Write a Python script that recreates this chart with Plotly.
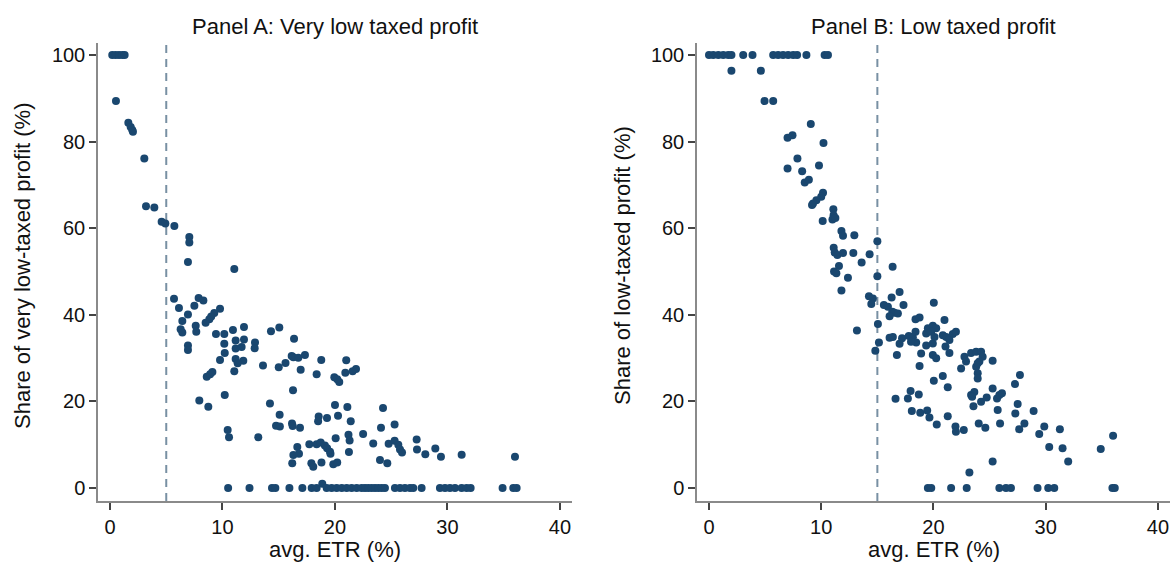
import plotly.graph_objects as go

# ---------------- Data ----------------
# Panel A: Very low taxed profit
a_x = [0.2, 0.5, 0.8, 1.1, 1.3,
       0.53, 1.63, 1.84, 1.98, 2.04, 3.05, 3.2, 3.94, 4.59, 4.92, 5.72,
       7.05, 7.05, 6.93, 11.05, 5.69, 6.13, 7.88, 8.3, 7.5, 6.93, 9.78, 9.27, 9.0, 8.83, 8.5,
       6.43, 6.28, 6.43, 7.62, 7.67, 6.93, 6.93, 9.42, 10.16, 10.93, 11.91, 10.16, 11.17,
       11.91, 11.17, 11.7, 10.2, 9.78, 11.17, 11.85, 11.35, 11.05, 12.89, 12.86, 13.6,
       14.31, 15.05, 15.0, 15.6, 8.6, 8.9, 9.1, 10.2, 7.94, 8.74, 14.22, 15.08, 14.76, 15.1,
       10.46, 10.58, 13.18,
       16.36, 16.15, 16.3, 16.74, 17.33, 16.95, 16.27, 18.78, 18.37, 21.0, 19.94, 20.2, 20.38,
       20.92, 21.57, 21.87, 16.18, 16.24, 16.89, 20.0, 21.1, 18.55, 18.5, 19.29, 20.27, 21.4,
       24.27, 24.09, 25.3, 22.5, 21.2, 21.3, 20.06, 23.4, 24.77, 25.3, 25.63, 25.78, 25.96,
       27.26, 27.29, 28.03, 28.92, 29.42, 31.26, 36.0, 17.72, 18.37, 18.73, 19.1, 19.3, 19.56,
       19.6, 16.65, 16.8, 16.3, 16.2, 17.9, 18.07, 18.8, 19.85, 20.2, 21.24, 24.0, 24.65,
       10.5, 12.4, 14.4, 14.7, 15.95, 17.1, 17.93, 18.37, 18.87, 19.26, 19.7, 20.15, 20.6,
       21.04, 21.48, 21.93, 22.37, 22.67, 22.96, 23.26, 23.56, 23.85, 24.15, 24.44, 25.33,
       25.78, 26.22, 26.67, 26.96, 27.7, 29.33, 29.78, 30.22, 30.67, 31.26, 31.7, 32.06,
       34.9, 35.85, 36.15]
a_y = [100, 100, 100, 100, 100,
       89.4, 84.4, 83.4, 82.7, 82.3, 76.1, 65.1, 64.8, 61.5, 61.1, 60.5,
       58.0, 56.7, 52.2, 50.6, 43.7, 41.6, 43.9, 43.3, 42.1, 40.1, 41.4, 40.4, 39.6, 39.0, 38.2,
       38.6, 36.7, 35.9, 37.5, 36.1, 32.9, 31.9, 35.6, 35.6, 36.5, 37.2, 33.3, 34.1,
       34.3, 32.2, 32.6, 31.2, 29.6, 29.8, 29.4, 28.8, 27.0, 33.6, 32.3, 28.3,
       36.2, 37.1, 27.9, 28.9, 25.7, 26.3, 26.8, 21.5, 20.2, 18.8, 19.5, 16.9, 14.4, 14.2,
       13.4, 11.7, 11.7,
       34.5, 30.5, 30.2, 30.1, 30.7, 27.3, 22.6, 29.6, 26.3, 29.5, 25.6, 25.1, 24.5,
       26.6, 27.0, 27.5, 14.9, 14.3, 13.9, 19.2, 18.7, 16.5, 15.4, 16.2, 16.7, 15.4,
       18.5, 13.9, 14.7, 12.5, 12.3, 11.0, 11.5, 10.3, 10.2, 10.9, 10.0, 8.9, 8.2,
       11.2, 8.9, 7.8, 9.1, 7.2, 7.7, 7.2, 10.1, 10.1, 10.5, 9.8, 9.2, 8.4,
       7.9, 9.5, 7.9, 7.6, 5.7, 5.7, 4.9, 5.9, 5.5, 5.9, 8.3, 6.5, 5.7,
       0, 0, 0, 0, 0, 0, 0, 0, 1.0, 0, 0, 0, 0,
       0, 0, 0, 0, 0, 0, 0, 0, 0, 0, 0, 0,
       0, 0, 0, 0, 0, 0, 0, 0, 0, 0, 0, 0,
       0, 0, 0]

# Panel B: Low taxed profit
b_x = [0.0, 0.38, 0.83, 1.27, 1.72, 2.0, 3.05, 3.88, 5.72, 6.16, 6.6, 7.05, 7.5, 7.85, 8.68,
       10.3, 10.6,
       2.0, 4.62, 4.95, 5.72, 9.07, 7.0, 7.44, 10.2, 7.88, 7.0, 9.8, 8.3, 8.53, 8.9, 10.16,
       10.0, 9.57, 9.27, 9.18, 11.08, 11.1, 11.0, 10.13, 11.26, 11.8,
       11.94, 12.95, 15.0, 11.11, 11.2, 11.44, 11.94, 12.86, 14.31, 13.6, 11.58, 11.14, 11.35,
       12.38, 15.0, 16.36, 11.8, 14.25, 14.6, 14.46, 13.18, 16.27, 16.98, 15.58, 15.94, 16.33,
       16.53, 16.09, 16.83, 17.33, 20.03, 15.05, 15.14, 14.82, 16.09, 16.38, 16.98, 17.2,
       16.74, 18.4, 18.76, 20.98, 17.8, 18.16, 18.4, 18.46, 19.35, 19.5, 19.94, 20.24, 19.8,
       19.35, 19.94, 20.09, 20.83, 21.13, 21.72, 22.0, 21.42, 18.9, 19.94, 20.24, 21.42,
       18.76, 20.83, 22.76, 22.9, 23.35, 23.8, 22.46, 23.8, 23.94,
       18.0, 21.07, 20.03, 21.27, 24.24, 24.38, 24.09, 23.94, 23.94, 25.27, 23.35, 23.64,
       23.44, 23.56, 24.24, 24.74, 25.27, 25.66, 25.87, 26.1, 25.72, 27.26, 27.7, 27.5, 27.29,
       28.1, 27.64, 28.92, 29.87, 29.42, 31.26, 30.31, 31.5, 32.0, 34.9, 36.0, 16.62, 17.72,
       17.96, 18.69, 18.07, 18.82, 19.44, 19.64, 20.29, 21.27, 21.96, 22.0, 22.7, 24.03,
       24.62, 25.93, 25.27, 23.2,
       19.5, 19.8, 21.57, 22.96, 25.87, 26.46, 26.9, 29.27, 30.22, 30.76, 35.94, 36.15]
b_y = [100, 100, 100, 100, 100, 100, 100, 100, 100, 100, 100, 100, 100, 100, 100,
       100, 100,
       96.4, 96.4, 89.4, 89.4, 84.1, 80.9, 81.5, 79.7, 76.1, 73.8, 74.5, 73.2, 70.6, 71.2, 68.2,
       67.3, 66.5, 65.7, 65.4, 64.4, 63.0, 62.0, 61.7, 62.4, 59.4,
       58.3, 58.4, 57.0, 55.5, 54.4, 53.8, 54.3, 54.3, 54.0, 52.1, 51.3, 50.0, 49.6,
       48.6, 48.9, 51.1, 45.6, 44.3, 43.8, 42.5, 36.4, 44.0, 45.3, 42.3, 41.9, 40.7,
       40.5, 39.7, 40.3, 42.3, 42.8, 37.9, 33.6, 31.7, 34.7, 34.9, 33.3, 34.6,
       30.7, 39.0, 39.4, 38.8, 35.1, 34.8, 36.1, 33.6, 35.7, 36.9, 37.5, 36.9, 36.1,
       32.9, 33.4, 34.9, 35.3, 34.9, 35.6, 36.1, 34.2, 31.1, 30.7, 30.0, 31.2,
       28.2, 25.9, 30.3, 29.2, 31.2, 31.5, 27.6, 28.0, 26.5,
       33.8, 32.7, 24.8, 23.3, 31.5, 30.3, 29.2, 28.8, 25.3, 29.4, 21.5, 22.2,
       21.1, 18.9, 19.9, 20.9, 23.0, 20.7, 21.5, 21.9, 18.0, 24.0, 26.1, 19.4, 17.2,
       14.9, 13.6, 17.8, 14.2, 12.5, 13.6, 9.5, 9.2, 6.1, 9.0, 12.1, 20.6, 20.7,
       22.4, 21.6, 17.8, 17.4, 17.9, 16.3, 14.7, 16.6, 14.2, 13.0, 13.4, 14.9,
       13.9, 14.9, 6.1, 3.6,
       0, 0, 0, 0, 0, 0, 0, 0, 0, 0, 0, 0]

x_ticks = [0, 10, 20, 30, 40]
y_ticks = [0, 20, 40, 60, 80, 100]
cutoff_a = 5
cutoff_b = 15
titles = ["Panel A: Very low taxed profit", "Panel B: Low taxed profit"]
y_titles = ["Share of very low-taxed profit (%)", "Share of low-taxed profit (%)"]
x_title = "avg. ETR (%)"

# ---------------- Styling ----------------
W, H = 1174, 565
FONT = "Liberation Sans, Arial, sans-serif"
NAVY = "#1a476f"
AXIS = "#8a8a8a"
TICK_SIZE = 20
TITLE_SIZE = 22

def px_x(p):
    return p / W

def px_y(p):
    return 1 - p / H

dom_a = [px_x(98), px_x(572)]
dom_b = [px_x(697), px_x(1170)]
dom_y = [px_y(501), px_y(43)]

fig = go.Figure()
marker = dict(color=NAVY, size=8, line=dict(width=0))
fig.add_trace(go.Scatter(x=a_x, y=a_y, mode="markers", marker=marker,
                         xaxis="x", yaxis="y", showlegend=False))
fig.add_trace(go.Scatter(x=b_x, y=b_y, mode="markers", marker=marker,
                         xaxis="x2", yaxis="y2", showlegend=False))

xcommon = dict(range=[-1.067, 41.07], tickvals=x_ticks, showgrid=False, zeroline=False,
               showline=True, linecolor=AXIS, linewidth=1.5, ticks="outside", ticklen=7,
               tickcolor="#444", tickwidth=1.5, automargin=False,
               tickfont=dict(family=FONT, size=TICK_SIZE, color="#111"))
ycommon = dict(range=[-3.0, 102.8], tickvals=y_ticks, showgrid=False, zeroline=False,
               showline=True, linecolor=AXIS, linewidth=1.5, ticks="outside", ticklen=7,
               tickcolor="#444", tickwidth=1.5, automargin=False, domain=dom_y,
               tickfont=dict(family=FONT, size=TICK_SIZE, color="#111"))

fig.update_layout(
    width=W, height=H,
    margin=dict(l=0, r=0, t=0, b=0),
    paper_bgcolor="white", plot_bgcolor="white",
    font=dict(family=FONT, size=TICK_SIZE, color="#111"),
    xaxis=dict(**xcommon, domain=dom_a, anchor="y"),
    yaxis=dict(**ycommon, anchor="x"),
    xaxis2=dict(**xcommon, domain=dom_b, anchor="y2"),
    yaxis2=dict(**ycommon, anchor="x2"),
)

dash = dict(color="#7890a3", width=2, dash="8px,6px")
fig.add_shape(type="line", xref="x", yref="y domain", x0=cutoff_a, x1=cutoff_a, y0=0, y1=1,
              line=dash, layer="below")
fig.add_shape(type="line", xref="x2", yref="y2 domain", x0=cutoff_b, x1=cutoff_b, y0=0, y1=1,
              line=dash, layer="below")

ann = []
for dom, t in zip([dom_a, dom_b], titles):
    ann.append(dict(text=t, x=(dom[0] + dom[1]) / 2, y=px_y(27), xref="paper", yref="paper",
                    showarrow=False, xanchor="center", yanchor="middle",
                    font=dict(family=FONT, size=TITLE_SIZE, color="#111")))
    ann.append(dict(text=x_title, x=(dom[0] + dom[1]) / 2, y=px_y(549), xref="paper",
                    yref="paper", showarrow=False, xanchor="center", yanchor="middle",
                    font=dict(family=FONT, size=TITLE_SIZE, color="#111")))
for xp, t in zip([22, 622], y_titles):
    ann.append(dict(text=t, x=px_x(xp), y=px_y(266), xref="paper", yref="paper",
                    showarrow=False, xanchor="center", yanchor="middle", textangle=-90,
                    font=dict(family=FONT, size=TITLE_SIZE, color="#111")))
fig.update_layout(annotations=ann)

fig.write_html("out.html")
